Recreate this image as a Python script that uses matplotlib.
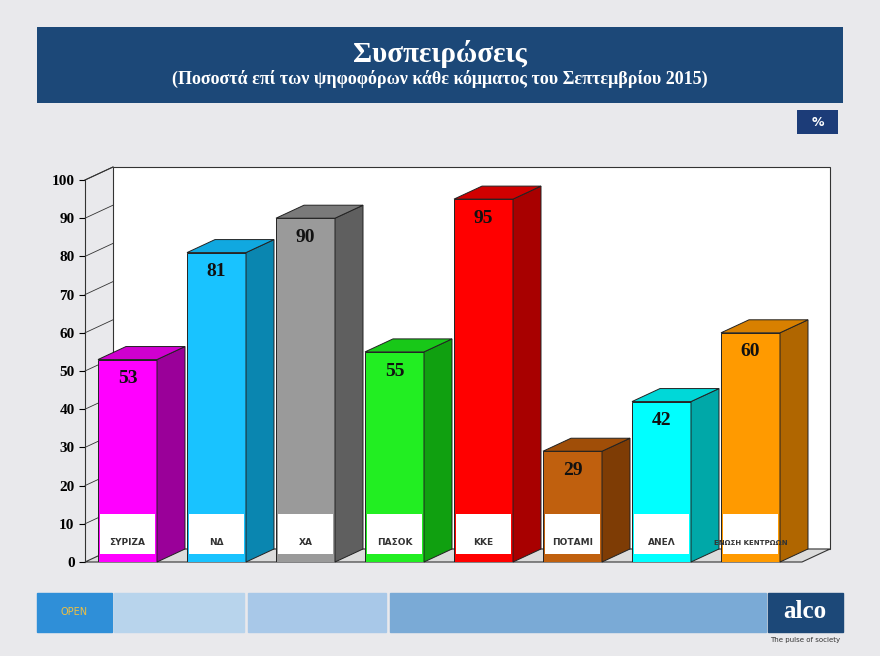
import matplotlib
matplotlib.use("Agg")
import matplotlib.pyplot as plt
from matplotlib.patches import Polygon, Rectangle

parties = ["ΣΥΡΙΖΑ", "ΝΔ", "ΧΑ", "ΠΑΣΟΚ", "ΚΚΕ", "ΠΟΤΑΜΙ", "ΑΝΕΛ", "ΕΝΩΣΗ ΚΕΝΤΡΩΩΝ"]
values = [53, 81, 90, 55, 95, 29, 42, 60]
front_colors = ["#ff00ff", "#19c3ff", "#9a9a9a", "#22ee22", "#ff0000", "#c0600e", "#00ffff", "#ff9a00"]
side_colors = ["#9a0099", "#0a86b0", "#5f5f5f", "#10a010", "#a80000", "#7e3c05", "#00a8a8", "#b06600"]
top_colors = ["#d000d0", "#10a8e0", "#7a7a7a", "#18c818", "#d00000", "#a04e08", "#00d8d8", "#d88000"]
yticks = list(range(0, 101, 10))

fig = plt.figure(figsize=(8.8, 6.56), dpi=100)
fig.patch.set_facecolor("#e9e9ec")

# header
hdr = fig.add_axes([37/880, 1-103/656, 806/880, 76/656]); hdr.axis("off")
hdr.add_patch(Rectangle((0, 0), 1, 1, transform=hdr.transAxes, color="#1c4878"))
hdr.text(0.5, 0.65, "Συσπειρώσεις", color="white", ha="center", va="center",
         fontsize=21, fontweight="bold", family="Liberation Serif", transform=hdr.transAxes)
hdr.text(0.5, 0.32, "(Ποσοστά επί των ψηφοφόρων κάθε κόμματος του Σεπτεμβρίου 2015)", color="white",
         ha="center", va="center", fontsize=13, fontweight="bold", family="Liberation Serif",
         transform=hdr.transAxes)
pc = fig.add_axes([797/880, 1-134/656, 41/880, 24/656]); pc.axis("off")
pc.add_patch(Rectangle((0, 0), 1, 1, transform=pc.transAxes, color="#1c3c78"))
pc.text(0.5, 0.5, "%", color="white", ha="center", va="center", fontsize=9, fontweight="bold",
        transform=pc.transAxes)

# main chart
ax = fig.add_axes([85/880, 1-562/656, 745/880, 382/656])
ax.set_xlim(0, 745); ax.set_ylim(0, 100)
ax.patch.set_alpha(0)
for s in ["top", "right", "bottom"]:
    ax.spines[s].set_visible(False)
ax.spines["left"].set_color("#333")
ax.set_yticks(yticks)
ax.set_yticklabels([str(t) for t in yticks], fontsize=11, fontweight="bold", family="Liberation Serif")
ax.set_xticks([])
ax.tick_params(axis="y", length=4, direction="out")
dx, dy = 28, 13/3.82
ax.add_patch(Polygon([(dx, dy), (745, dy), (745, 100+dy), (dx, 100+dy)], closed=True,
                     facecolor="white", edgecolor="#333", lw=0.8, zorder=0, clip_on=False))
ax.add_patch(Polygon([(0, 0), (745-dx, 0), (745, dy), (dx, dy)], closed=True,
                     facecolor="#dcdcdc", edgecolor="#333", lw=0.8, zorder=1, clip_on=False))
ax.plot([0, dx], [100, 100+dy], color="#333", lw=0.8, clip_on=False)
for t in yticks[1:]:
    ax.plot([0, dx], [t, t+dy], color="#333", lw=0.6, clip_on=False, zorder=1)

w = 59
for i, (p, v) in enumerate(zip(parties, values)):
    x0 = 13 + i*89
    ax.add_patch(Rectangle((x0, 0), w, v, facecolor=front_colors[i], edgecolor="#222", lw=0.7, zorder=3))
    ax.add_patch(Polygon([(x0+w, 0), (x0+w+dx, dy), (x0+w+dx, v+dy), (x0+w, v)], closed=True,
                         facecolor=side_colors[i], edgecolor="#222", lw=0.7, zorder=3, clip_on=False))
    ax.add_patch(Polygon([(x0, v), (x0+w, v), (x0+w+dx, v+dy), (x0+dx, v+dy)], closed=True,
                         facecolor=top_colors[i], edgecolor="#222", lw=0.7, zorder=3, clip_on=False))
    ax.text(x0+w/2, v-5, str(v), ha="center", va="center", fontsize=14, fontweight="bold",
            family="Liberation Serif", color="#111", zorder=5)
    ax.add_patch(Rectangle((x0+2, 2), w-4, 10.5, facecolor="white", edgecolor="none", zorder=4))
    ax.text(x0+w/2, 5, p, ha="center", va="center", fontsize=5 if len(p) > 8 else 6.5,
            fontweight="bold", color="#333", zorder=5)

# footer
ft = fig.add_axes([0, 0, 1, 1]); ft.axis("off"); ft.set_xlim(0, 880); ft.set_ylim(656, 0)
ft.add_patch(Rectangle((37, 593), 75, 39, color="#2f8fd8"))
ft.text(74, 612, "OPEN", color="#f0c040", ha="center", va="center", fontsize=7)
ft.add_patch(Rectangle((114, 593), 130, 39, color="#b8d4ec"))
ft.add_patch(Rectangle((248, 593), 138, 39, color="#a8c8e8"))
ft.add_patch(Rectangle((390, 593), 376, 39, color="#7aaad6"))
ft.add_patch(Rectangle((768, 593), 75, 39, color="#1c4878"))
ft.text(805, 611, "alco", color="white", ha="center", va="center", fontsize=18,
        fontweight="bold", family="Liberation Serif")
ft.text(805, 640, "The pulse of society", color="#333", ha="center", va="center", fontsize=5)

fig.savefig("out.png", dpi=100, facecolor=fig.get_facecolor())
